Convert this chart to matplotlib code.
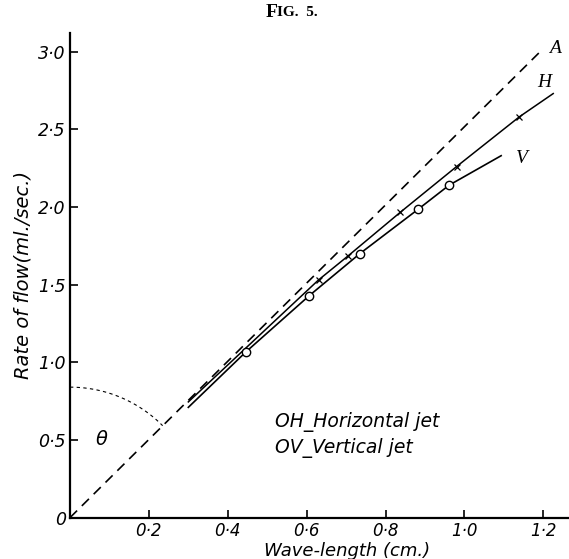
import numpy as np
import matplotlib.pyplot as plt

# data
a_wave = [0.0, 1.20]                  # dashed line OA
a_flow = [0.0, 3.02]
h_wave = [0.30, 0.63, 0.705, 0.837, 0.98, 1.139, 1.225]   # horizontal jet OH
h_flow = [0.745, 1.53, 1.685, 1.965, 2.26, 2.58, 2.73]
h_marks = [1, 2, 3, 4, 5]
v_wave = [0.30, 0.446, 0.607, 0.735, 0.883, 0.961, 1.093]  # vertical jet OV
v_flow = [0.71, 1.067, 1.43, 1.70, 1.986, 2.14, 2.33]
v_marks = [1, 2, 3, 4, 5]
x_ticks = [0.2, 0.4, 0.6, 0.8, 1.0, 1.2]
x_labels = ['0·2', '0·4', '0·6', '0·8', '1·0', '1·2']
y_ticks = [0, 0.5, 1.0, 1.5, 2.0, 2.5, 3.0]
y_labels = ['0', '0·5', '1·0', '1·5', '2·0', '2·5', '3·0']

fig = plt.figure(figsize=(5.69, 5.59), dpi=100)
ax = fig.add_axes([0.123, 0.074, 0.877, 0.867])

ax.plot(a_wave, a_flow, color='black', lw=1.2, dashes=(6, 4))
ax.plot(h_wave, h_flow, color='black', lw=1.1)
ax.plot([h_wave[i] for i in h_marks], [h_flow[i] for i in h_marks], ls='none',
        marker='x', ms=4, mew=0.9, color='black')
ax.plot(v_wave, v_flow, color='black', lw=1.2)
ax.plot([v_wave[i] for i in v_marks], [v_flow[i] for i in v_marks], ls='none',
        marker='o', ms=6, mew=1.0, mfc='white', mec='black')

# angle arc (circular on the page)
t = np.linspace(0, np.radians(45.2), 60)
ax.plot(0.331 * np.sin(t), 0.84 * np.cos(t), color='black', lw=0.8, dashes=(3, 3))

ax.set_xlim(0, 1.265)
ax.set_ylim(0, 3.12)
for s in ['top', 'right']:
    ax.spines[s].set_visible(False)
ax.spines['left'].set_linewidth(1.6)
ax.spines['bottom'].set_linewidth(1.6)
ax.set_xticks(x_ticks, x_labels, fontstyle='italic', fontsize=12)
ax.set_yticks(y_ticks, y_labels, fontstyle='italic', fontsize=12.5)
ax.tick_params(direction='in', length=6, width=1.2, pad=3)

ax.set_xlabel('Wave-length (cm.)', fontstyle='italic', fontsize=13)
ax.xaxis.set_label_coords(0.555, -0.05)
ax.set_ylabel('Rate of flow(ml./sec.)', fontstyle='italic', fontsize=14)
ax.yaxis.set_label_coords(-0.075, 0.5)

ax.text(1.215, 3.02, 'A', family='Liberation Serif', style='italic', fontsize=14, va='center')
ax.text(1.185, 2.80, 'H', family='Liberation Serif', style='italic', fontsize=14, va='center')
ax.text(1.13, 2.31, 'V', family='Liberation Serif', style='italic', fontsize=14, va='center')
ax.text(0.065, 0.50, 'θ', style='italic', fontsize=14, va='center')
ax.text(0.52, 0.616, 'OH_Horizontal jet', style='italic', fontsize=13.5, va='center')
ax.text(0.52, 0.45, 'OV_Vertical jet', style='italic', fontsize=13.5, va='center')

fig.text(0.487, 0.978, 'F', family='Liberation Serif', weight='bold', fontsize=14, ha='right', va='center')
fig.text(0.487, 0.977, 'IG.  5.', family='Liberation Serif', weight='bold', fontsize=11, ha='left', va='center')

fig.savefig('out.png', dpi=100)
